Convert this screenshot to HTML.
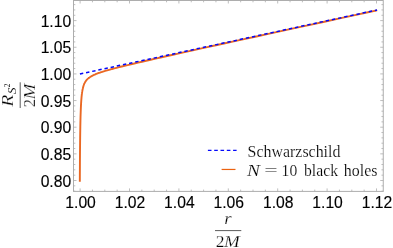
<!DOCTYPE html>
<html><head><meta charset="utf-8">
<style>
html,body{margin:0;padding:0;background:#fff;}
body{width:393px;height:248px;overflow:hidden;}
svg{display:block;will-change:transform;}
text{font-family:"Liberation Sans",sans-serif;fill:#000;}
.ser{font-family:"Liberation Serif",serif;}
</style></head><body>
<svg width="393" height="248" viewBox="0 0 393 248">
<rect width="393" height="248" fill="#fff"/>
<rect x="73.5" y="0.5" width="309.75" height="190.9" fill="none" stroke="#adadad" stroke-width="1"/>
<g stroke="#adadad" stroke-width="0.8"><line x1="80.10" y1="191.40" x2="80.10" y2="188.40"/><line x1="80.10" y1="0.50" x2="80.10" y2="3.50"/><line x1="92.45" y1="191.40" x2="92.45" y2="189.60"/><line x1="92.45" y1="0.50" x2="92.45" y2="2.30"/><line x1="104.80" y1="191.40" x2="104.80" y2="189.60"/><line x1="104.80" y1="0.50" x2="104.80" y2="2.30"/><line x1="117.15" y1="191.40" x2="117.15" y2="189.60"/><line x1="117.15" y1="0.50" x2="117.15" y2="2.30"/><line x1="129.50" y1="191.40" x2="129.50" y2="188.40"/><line x1="129.50" y1="0.50" x2="129.50" y2="3.50"/><line x1="141.85" y1="191.40" x2="141.85" y2="189.60"/><line x1="141.85" y1="0.50" x2="141.85" y2="2.30"/><line x1="154.20" y1="191.40" x2="154.20" y2="189.60"/><line x1="154.20" y1="0.50" x2="154.20" y2="2.30"/><line x1="166.55" y1="191.40" x2="166.55" y2="189.60"/><line x1="166.55" y1="0.50" x2="166.55" y2="2.30"/><line x1="178.90" y1="191.40" x2="178.90" y2="188.40"/><line x1="178.90" y1="0.50" x2="178.90" y2="3.50"/><line x1="191.25" y1="191.40" x2="191.25" y2="189.60"/><line x1="191.25" y1="0.50" x2="191.25" y2="2.30"/><line x1="203.60" y1="191.40" x2="203.60" y2="189.60"/><line x1="203.60" y1="0.50" x2="203.60" y2="2.30"/><line x1="215.95" y1="191.40" x2="215.95" y2="189.60"/><line x1="215.95" y1="0.50" x2="215.95" y2="2.30"/><line x1="228.30" y1="191.40" x2="228.30" y2="188.40"/><line x1="228.30" y1="0.50" x2="228.30" y2="3.50"/><line x1="240.65" y1="191.40" x2="240.65" y2="189.60"/><line x1="240.65" y1="0.50" x2="240.65" y2="2.30"/><line x1="253.00" y1="191.40" x2="253.00" y2="189.60"/><line x1="253.00" y1="0.50" x2="253.00" y2="2.30"/><line x1="265.35" y1="191.40" x2="265.35" y2="189.60"/><line x1="265.35" y1="0.50" x2="265.35" y2="2.30"/><line x1="277.70" y1="191.40" x2="277.70" y2="188.40"/><line x1="277.70" y1="0.50" x2="277.70" y2="3.50"/><line x1="290.05" y1="191.40" x2="290.05" y2="189.60"/><line x1="290.05" y1="0.50" x2="290.05" y2="2.30"/><line x1="302.40" y1="191.40" x2="302.40" y2="189.60"/><line x1="302.40" y1="0.50" x2="302.40" y2="2.30"/><line x1="314.75" y1="191.40" x2="314.75" y2="189.60"/><line x1="314.75" y1="0.50" x2="314.75" y2="2.30"/><line x1="327.10" y1="191.40" x2="327.10" y2="188.40"/><line x1="327.10" y1="0.50" x2="327.10" y2="3.50"/><line x1="339.45" y1="191.40" x2="339.45" y2="189.60"/><line x1="339.45" y1="0.50" x2="339.45" y2="2.30"/><line x1="351.80" y1="191.40" x2="351.80" y2="189.60"/><line x1="351.80" y1="0.50" x2="351.80" y2="2.30"/><line x1="364.15" y1="191.40" x2="364.15" y2="189.60"/><line x1="364.15" y1="0.50" x2="364.15" y2="2.30"/><line x1="376.50" y1="191.40" x2="376.50" y2="188.40"/><line x1="376.50" y1="0.50" x2="376.50" y2="3.50"/><line x1="73.50" y1="191.16" x2="75.30" y2="191.16"/><line x1="383.25" y1="191.16" x2="381.45" y2="191.16"/><line x1="73.50" y1="185.83" x2="75.30" y2="185.83"/><line x1="383.25" y1="185.83" x2="381.45" y2="185.83"/><line x1="73.50" y1="180.50" x2="76.50" y2="180.50"/><line x1="383.25" y1="180.50" x2="380.25" y2="180.50"/><line x1="73.50" y1="175.17" x2="75.30" y2="175.17"/><line x1="383.25" y1="175.17" x2="381.45" y2="175.17"/><line x1="73.50" y1="169.84" x2="75.30" y2="169.84"/><line x1="383.25" y1="169.84" x2="381.45" y2="169.84"/><line x1="73.50" y1="164.51" x2="75.30" y2="164.51"/><line x1="383.25" y1="164.51" x2="381.45" y2="164.51"/><line x1="73.50" y1="159.18" x2="75.30" y2="159.18"/><line x1="383.25" y1="159.18" x2="381.45" y2="159.18"/><line x1="73.50" y1="153.85" x2="76.50" y2="153.85"/><line x1="383.25" y1="153.85" x2="380.25" y2="153.85"/><line x1="73.50" y1="148.52" x2="75.30" y2="148.52"/><line x1="383.25" y1="148.52" x2="381.45" y2="148.52"/><line x1="73.50" y1="143.19" x2="75.30" y2="143.19"/><line x1="383.25" y1="143.19" x2="381.45" y2="143.19"/><line x1="73.50" y1="137.86" x2="75.30" y2="137.86"/><line x1="383.25" y1="137.86" x2="381.45" y2="137.86"/><line x1="73.50" y1="132.53" x2="75.30" y2="132.53"/><line x1="383.25" y1="132.53" x2="381.45" y2="132.53"/><line x1="73.50" y1="127.20" x2="76.50" y2="127.20"/><line x1="383.25" y1="127.20" x2="380.25" y2="127.20"/><line x1="73.50" y1="121.87" x2="75.30" y2="121.87"/><line x1="383.25" y1="121.87" x2="381.45" y2="121.87"/><line x1="73.50" y1="116.54" x2="75.30" y2="116.54"/><line x1="383.25" y1="116.54" x2="381.45" y2="116.54"/><line x1="73.50" y1="111.21" x2="75.30" y2="111.21"/><line x1="383.25" y1="111.21" x2="381.45" y2="111.21"/><line x1="73.50" y1="105.88" x2="75.30" y2="105.88"/><line x1="383.25" y1="105.88" x2="381.45" y2="105.88"/><line x1="73.50" y1="100.55" x2="76.50" y2="100.55"/><line x1="383.25" y1="100.55" x2="380.25" y2="100.55"/><line x1="73.50" y1="95.22" x2="75.30" y2="95.22"/><line x1="383.25" y1="95.22" x2="381.45" y2="95.22"/><line x1="73.50" y1="89.89" x2="75.30" y2="89.89"/><line x1="383.25" y1="89.89" x2="381.45" y2="89.89"/><line x1="73.50" y1="84.56" x2="75.30" y2="84.56"/><line x1="383.25" y1="84.56" x2="381.45" y2="84.56"/><line x1="73.50" y1="79.23" x2="75.30" y2="79.23"/><line x1="383.25" y1="79.23" x2="381.45" y2="79.23"/><line x1="73.50" y1="73.90" x2="76.50" y2="73.90"/><line x1="383.25" y1="73.90" x2="380.25" y2="73.90"/><line x1="73.50" y1="68.57" x2="75.30" y2="68.57"/><line x1="383.25" y1="68.57" x2="381.45" y2="68.57"/><line x1="73.50" y1="63.24" x2="75.30" y2="63.24"/><line x1="383.25" y1="63.24" x2="381.45" y2="63.24"/><line x1="73.50" y1="57.91" x2="75.30" y2="57.91"/><line x1="383.25" y1="57.91" x2="381.45" y2="57.91"/><line x1="73.50" y1="52.58" x2="75.30" y2="52.58"/><line x1="383.25" y1="52.58" x2="381.45" y2="52.58"/><line x1="73.50" y1="47.25" x2="76.50" y2="47.25"/><line x1="383.25" y1="47.25" x2="380.25" y2="47.25"/><line x1="73.50" y1="41.92" x2="75.30" y2="41.92"/><line x1="383.25" y1="41.92" x2="381.45" y2="41.92"/><line x1="73.50" y1="36.59" x2="75.30" y2="36.59"/><line x1="383.25" y1="36.59" x2="381.45" y2="36.59"/><line x1="73.50" y1="31.26" x2="75.30" y2="31.26"/><line x1="383.25" y1="31.26" x2="381.45" y2="31.26"/><line x1="73.50" y1="25.93" x2="75.30" y2="25.93"/><line x1="383.25" y1="25.93" x2="381.45" y2="25.93"/><line x1="73.50" y1="20.60" x2="76.50" y2="20.60"/><line x1="383.25" y1="20.60" x2="380.25" y2="20.60"/><line x1="73.50" y1="15.27" x2="75.30" y2="15.27"/><line x1="383.25" y1="15.27" x2="381.45" y2="15.27"/><line x1="73.50" y1="9.94" x2="75.30" y2="9.94"/><line x1="383.25" y1="9.94" x2="381.45" y2="9.94"/><line x1="73.50" y1="4.61" x2="75.30" y2="4.61"/><line x1="383.25" y1="4.61" x2="381.45" y2="4.61"/></g>
<path fill="none" stroke="#ea6823" stroke-width="1.9" stroke-linejoin="round" d="M79.82 181.68 C79.82 180.56 79.84 177.10 79.85 174.91 C79.86 172.73 79.87 170.62 79.89 168.57 C79.90 166.52 79.91 164.54 79.92 162.62 C79.94 160.70 79.95 158.84 79.96 157.04 C79.98 155.24 79.99 153.51 80.00 151.82 C80.02 150.13 80.03 148.50 80.05 146.92 C80.06 145.34 80.08 143.82 80.10 142.33 C80.11 140.85 80.13 139.42 80.15 138.03 C80.16 136.64 80.18 135.30 80.20 134.00 C80.22 132.70 80.24 131.44 80.26 130.22 C80.28 129.00 80.30 127.82 80.32 126.68 C80.34 125.53 80.36 124.43 80.39 123.36 C80.41 122.28 80.43 121.25 80.46 120.24 C80.48 119.24 80.50 118.27 80.53 117.32 C80.56 116.38 80.58 115.47 80.61 114.59 C80.64 113.70 80.67 112.85 80.70 112.02 C80.73 111.19 80.76 110.39 80.79 109.61 C80.82 108.84 80.85 108.09 80.88 107.36 C80.92 106.63 80.95 105.92 80.99 105.24 C81.02 104.56 81.06 103.90 81.10 103.25 C81.14 102.61 81.18 101.99 81.22 101.39 C81.26 100.79 81.30 100.21 81.34 99.64 C81.39 99.08 81.43 98.53 81.48 98.00 C81.52 97.47 81.57 96.96 81.62 96.46 C81.67 95.96 81.72 95.48 81.77 95.01 C81.83 94.54 81.88 94.09 81.94 93.65 C81.99 93.21 82.05 92.79 82.11 92.37 C82.17 91.96 82.23 91.56 82.30 91.17 C82.36 90.78 82.43 90.41 82.49 90.04 C82.56 89.67 82.63 89.32 82.71 88.98 C82.78 88.63 82.85 88.30 82.93 87.97 C83.01 87.65 83.09 87.33 83.17 87.03 C83.26 86.72 83.34 86.42 83.43 86.14 C83.52 85.85 83.61 85.57 83.71 85.29 C83.80 85.02 83.90 84.76 84.00 84.50 C84.10 84.24 84.20 83.99 84.31 83.74 C84.42 83.50 84.53 83.26 84.65 83.03 C84.76 82.80 84.88 82.57 85.00 82.35 C85.12 82.13 85.25 81.91 85.38 81.70 C85.51 81.49 85.65 81.29 85.79 81.09 C85.93 80.89 86.07 80.69 86.22 80.50 C86.37 80.31 86.52 80.12 86.68 79.93 C86.84 79.75 87.00 79.57 87.17 79.39 C87.34 79.22 87.52 79.04 87.70 78.87 C87.88 78.70 88.07 78.53 88.26 78.37 C88.45 78.20 88.65 78.04 88.86 77.88 C89.07 77.72 89.28 77.56 89.50 77.41 C89.72 77.25 89.95 77.10 90.18 76.95 C90.41 76.79 90.66 76.64 90.91 76.49 C91.16 76.34 91.42 76.19 91.68 76.05 C91.95 75.90 92.23 75.75 92.51 75.61 C92.80 75.46 93.09 75.31 93.40 75.17 C93.70 75.02 94.02 74.88 94.34 74.73 C94.67 74.59 95.00 74.44 95.35 74.30 C95.69 74.15 96.05 74.01 96.42 73.86 C96.79 73.72 97.17 73.57 97.57 73.42 C97.96 73.28 98.37 73.13 98.79 72.98 C99.21 72.83 99.65 72.68 100.10 72.53 C100.55 72.37 101.01 72.22 101.49 72.06 C101.97 71.91 102.46 71.75 102.98 71.59 C103.49 71.43 104.02 71.27 104.56 71.11 C105.11 70.94 105.67 70.78 106.26 70.61 C106.84 70.44 107.44 70.27 108.06 70.09 C108.68 69.92 109.33 69.74 109.99 69.56 C110.65 69.37 111.34 69.19 112.05 69.00 C112.76 68.81 113.49 68.62 114.24 68.42 C115.00 68.22 115.78 68.02 116.59 67.82 C117.39 67.61 118.22 67.40 119.08 67.18 C119.95 66.97 120.83 66.75 121.75 66.52 C122.67 66.29 123.62 66.06 124.60 65.82 C125.58 65.58 126.59 65.34 127.64 65.09 C128.68 64.84 129.76 64.58 130.88 64.31 C132.00 64.05 133.15 63.78 134.34 63.50 C135.53 63.22 136.76 62.93 138.03 62.64 C139.30 62.34 140.61 62.04 141.97 61.73 C143.33 61.41 144.72 61.09 146.17 60.76 C147.62 60.43 149.11 60.09 150.66 59.74 C152.20 59.39 153.79 59.03 155.44 58.66 C157.09 58.29 158.79 57.90 160.55 57.51 C162.31 57.11 164.12 56.71 166.00 56.29 C167.88 55.87 169.82 55.44 171.82 54.99 C173.82 54.55 175.89 54.09 178.03 53.61 C180.16 53.14 182.37 52.65 184.65 52.15 C186.93 51.65 189.28 51.13 191.72 50.59 C194.15 50.05 196.66 49.50 199.26 48.93 C201.86 48.36 204.54 47.78 207.31 47.17 C210.08 46.56 212.94 45.94 215.90 45.29 C218.86 44.64 221.91 43.98 225.06 43.29 C228.22 42.60 231.47 41.89 234.84 41.15 C238.21 40.42 241.69 39.66 245.28 38.88 C248.88 38.10 252.58 37.29 256.42 36.46 C260.26 35.63 264.21 34.77 268.30 33.88 C272.40 32.99 276.62 32.07 280.99 31.13 C285.36 30.18 289.86 29.20 294.52 28.19 C299.18 27.18 303.99 26.14 308.96 25.06 C313.94 23.98 319.07 22.87 324.38 21.72 C329.69 20.57 335.16 19.39 340.82 18.16 C346.49 16.94 352.33 15.68 358.37 14.37 C364.42 13.06 373.98 10.99 377.10 10.32"/>
<path fill="none" stroke="#0408fb" stroke-width="1.5" stroke-dasharray="3.4 2.887" d="M79.9 74.02 L377.1 9.95"/>
<g fill="#000" stroke="#000" stroke-width="0.13" font-size="15.7">
<text x="40.64" y="26.60">1.10</text>
<text x="40.64" y="53.25">1.05</text>
<text x="40.64" y="79.90">1.00</text>
<text x="40.64" y="106.55">0.95</text>
<text x="40.64" y="133.20">0.90</text>
<text x="40.64" y="159.85">0.85</text>
<text x="40.64" y="186.50">0.80</text>
</g>
<g fill="#000" stroke="#000" stroke-width="0.13" font-size="15.7">
<text x="65.32" y="208.40">1.00</text>
<text x="114.72" y="208.40">1.02</text>
<text x="164.12" y="208.40">1.04</text>
<text x="213.52" y="208.40">1.06</text>
<text x="262.92" y="208.40">1.08</text>
<text x="312.32" y="208.40">1.10</text>
<text x="361.72" y="208.40">1.12</text>
</g>
<g class="ser" font-style="italic" stroke="#fff" stroke-width="0.25">
<text class="ser" x="224.2" y="223.7" font-size="17.5" textLength="7.4" lengthAdjust="spacingAndGlyphs">r</text>
<line x1="215" y1="230.6" x2="241.3" y2="230.6" stroke="#151515" stroke-width="0.7"/>
<text class="ser" x="215.7" y="246.7" font-size="16.5" font-style="normal" textLength="8.8" lengthAdjust="spacingAndGlyphs">2</text>
<text class="ser" x="223.9" y="246.7" font-size="16.5" textLength="15.8" lengthAdjust="spacingAndGlyphs">M</text>
</g>
<g transform="translate(0,95.2) rotate(-90)" font-style="italic" stroke="#fff" stroke-width="0.25">
<text class="ser" x="-11.6" y="12.9" font-size="16.8" textLength="12.2" lengthAdjust="spacingAndGlyphs">R</text>
<text class="ser" x="1.0" y="16.2" font-size="12.6" textLength="6.8" lengthAdjust="spacingAndGlyphs" stroke-width="0.1">S</text>
<text class="ser" x="7.9" y="10.0" font-size="7.6" font-style="normal" stroke="none">2</text>
<line x1="-12.8" y1="20.2" x2="12.9" y2="20.2" stroke="#151515" stroke-width="0.7"/>
<text class="ser" x="-12.1" y="34.7" font-size="16.5" font-style="normal">2</text>
<text class="ser" x="-4.4" y="34.7" font-size="16.5" textLength="15.8" lengthAdjust="spacingAndGlyphs">M</text>
</g>
<line x1="207.9" y1="150.35" x2="236.6" y2="150.35" stroke="#0408fb" stroke-width="1.2" stroke-dasharray="3.6 2.7"/>
<line x1="221.6" y1="169.45" x2="235.5" y2="169.45" stroke="#eb6210" stroke-width="1.2"/>
<g class="ser" font-size="17" stroke="#fff" stroke-width="0.18">
<text class="ser" x="247.6" y="156.5" textLength="92.8" lengthAdjust="spacingAndGlyphs">Schwarzschild</text>
<text class="ser" x="246.9" y="175.9" textLength="12.9" lengthAdjust="spacingAndGlyphs" font-style="italic">N</text>
<text class="ser" x="264.3" y="175.9" textLength="13.4" lengthAdjust="spacingAndGlyphs">=</text>
<text class="ser" x="281.6" y="175.9" textLength="15.6" lengthAdjust="spacingAndGlyphs">10</text>
<text class="ser" x="304.0" y="175.9" textLength="34.0" lengthAdjust="spacingAndGlyphs">black</text>
<text class="ser" x="343.8" y="175.9" textLength="33.6" lengthAdjust="spacingAndGlyphs">holes</text>
</g>
</svg>
</body></html>
